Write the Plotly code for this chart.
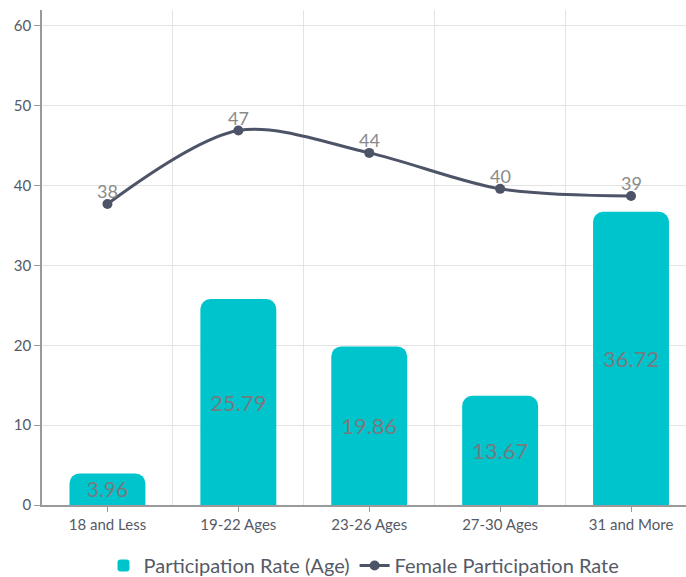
import plotly.graph_objects as go

categories = ["18 and Less", "19-22 Ages", "23-26 Ages", "27-30 Ages", "31 and More"]
participation = [3.96, 25.79, 19.86, 13.67, 36.72]
female_rate = [37.7, 46.9, 44.1, 39.6, 38.7]
female_labels = ["38", "47", "44", "40", "39"]
y_ticks = [0, 10, 20, 30, 40, 50, 60]

x = list(range(len(categories)))
FONT = "Lato, 'Open Sans', sans-serif"
TEAL = "#00c4cc"
LINE = "#4e5468"

fig = go.Figure()
fig.add_trace(go.Bar(
    x=x, y=participation, name="Participation Rate (Age)",
    marker=dict(color=TEAL, line=dict(width=0)),
    width=0.58,
    text=[f"{v:.2f}" for v in participation],
    textposition="inside", insidetextanchor="middle",
    constraintext="none",
    textfont=dict(color="#767b80", size=22, family=FONT),
))
fig.add_trace(go.Scatter(
    x=x, y=female_rate, name="Female Participation Rate",
    mode="lines+markers",
    line=dict(color=LINE, width=3, shape="spline", smoothing=0.9),
    marker=dict(color=LINE, size=10),
    cliponaxis=False,
))
for xi, yi, lab in zip(x, female_rate, female_labels):
    fig.add_annotation(x=xi, y=yi, text=lab, showarrow=False, yshift=13,
                       font=dict(color="#8a8a8a", size=18, family=FONT))

fig.update_layout(
    width=686, height=577,
    margin=dict(l=42, r=0, t=10, b=72),
    plot_bgcolor="white", paper_bgcolor="white",
    font=dict(family=FONT, color="#555a66"),
    barcornerradius=10,
    showlegend=True,
    legend=dict(orientation="h", x=0.5, xanchor="center", yref="container",
                y=0.02, yanchor="middle",
                font=dict(size=20, color="#555a66")),
    xaxis=dict(
        range=[-0.5, 4.42],
        tickmode="array", tickvals=x, ticktext=categories,
        tickfont=dict(size=15, color="#555a66"),
        showgrid=False, zeroline=False,
        showline=True, linecolor="#9a9a9a", linewidth=1.5,
        ticks="outside", ticklen=5, tickcolor="#9a9a9a",
        minor=dict(tickvals=[0.5, 1.5, 2.5, 3.5], showgrid=True, gridcolor="#e3e3e3", gridwidth=1, ticks=""),
    ),
    yaxis=dict(
        range=[0, 62],
        tickvals=y_ticks,
        tickfont=dict(size=15, color="#555a66"),
        showgrid=True, gridcolor="#e3e3e3", gridwidth=1,
        zeroline=False,
        showline=True, linecolor="#9a9a9a", linewidth=1.5,
        ticks="outside", ticklen=6, tickcolor="#9a9a9a",
    ),
)

fig.write_html("out.html")
